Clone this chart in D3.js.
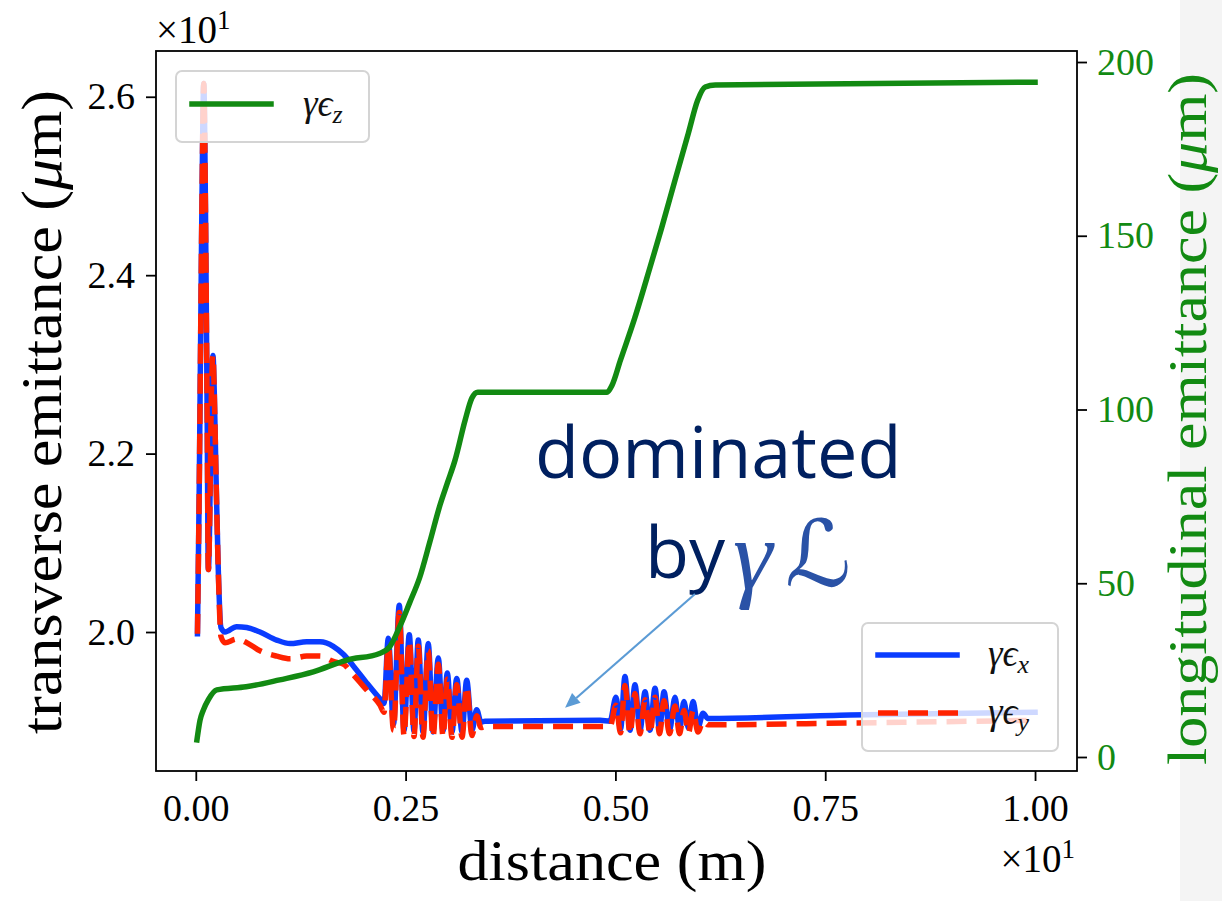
<!DOCTYPE html>
<html>
<head>
<meta charset="utf-8">
<script src="https://cdn.jsdelivr.net/npm/d3@7"></script>
<style>
  body { margin: 0; background: #fff; }
  svg { display: block; }
</style>
</head>
<body>
<svg id="chart" width="1222" height="901"></svg>
<script>
// Emittance evolution along the beamline (distance in m, emittance in µm)
const distXY = [
  0.020, 0.040, 0.070, 0.095, 0.115, 0.135, 0.150, 0.165, 0.185, 0.205,
  0.220, 0.240, 0.265, 0.300, 0.348, 0.487, 0.607, 0.765, 0.964, 1.123,
  1.321, 1.480, 1.638, 1.758, 1.877, 2.036, 2.195, 2.243, 2.294, 2.356,
  2.425, 2.481, 2.544, 2.600, 2.651, 2.707, 2.770, 2.826, 2.890, 2.946,
  2.997, 3.053, 3.109, 3.172, 3.228, 3.291, 3.347, 3.398, 3.446, 4.817,
  4.936, 5.007, 5.061, 5.114, 5.174, 5.233, 5.293, 5.353, 5.412, 5.472,
  5.526, 5.579, 5.645, 5.710, 5.764, 5.817, 5.871, 5.925, 5.984, 6.044,
  6.103, 7.795, 10.0
];
const gammaEpsX = [
  19.98, 21.5, 24.5, 26.15, 24.8, 22.5, 20.7, 21.2, 22.6, 23.1,
  22.7, 21.8, 20.8, 20.05, 20.0, 20.06, 20.05, 20.0, 19.91, 19.87,
  19.89, 19.89, 19.84, 19.75, 19.62, 19.43, 19.25, 19.20, 19.93, 18.97,
  20.30, 18.90, 19.97, 18.89, 19.91, 18.88, 19.87, 18.88, 19.71, 18.89,
  19.54, 18.88, 19.48, 18.88, 19.46, 18.90, 19.13, 18.99, 19.00, 19.01,
  19.00, 19.27, 18.91, 19.50, 18.90, 19.41, 18.90, 19.33, 18.90, 19.37,
  18.90, 19.33, 18.90, 19.27, 18.91, 19.22, 18.92, 19.22, 18.93, 19.09,
  19.03, 19.07, 19.10
];
const gammaEpsY = [
  19.98, 21.5, 24.5, 26.15, 24.8, 22.5, 20.7, 21.2, 22.6, 23.1,
  22.7, 21.8, 20.8, 19.95, 19.88, 19.92, 19.88, 19.79, 19.73, 19.70,
  19.73, 19.73, 19.67, 19.64, 19.52, 19.35, 19.18, 19.10, 19.85, 18.90,
  20.22, 18.84, 19.90, 18.83, 19.84, 18.82, 19.79, 18.82, 19.64, 18.83,
  19.47, 18.82, 19.41, 18.82, 19.39, 18.84, 19.06, 18.93, 18.94, 18.94,
  18.94, 19.18, 18.87, 19.40, 18.86, 19.31, 18.86, 19.24, 18.86, 19.27,
  18.86, 19.23, 18.86, 19.17, 18.86, 19.12, 18.87, 19.12, 18.88, 19.00,
  18.96, 18.98, 19.01
];
const distZ = [
  0.014, 0.05, 0.09, 0.15, 0.25, 0.60, 1.00, 1.40, 1.80, 2.19,
  2.31, 2.43, 2.55, 2.67, 2.79, 2.91, 3.00, 3.09, 3.21, 3.29,
  3.36, 4.90, 4.96, 5.06, 5.23, 5.41, 5.55, 5.71, 5.87, 5.98,
  6.07, 6.19, 10.0
];
const gammaEpsZ = [
  4.9, 10.5, 13.5, 16.5, 19.3, 20.2, 22.2, 24.5, 27.9, 29.8,
  31.7, 37.5, 44.5, 51.8, 62.0, 72.5, 79.0, 85.5, 97.0, 103.3,
  105.0, 105.0, 107.0, 114.2, 126.3, 140.7, 152.2, 166.0, 179.6, 189.0,
  192.8, 193.4, 194.2
];

// Axis ticks (labels carry a ×10¹ offset)
const distTicks = [0, 2.5, 5, 7.5, 10];
const distTickLabels = ["0.00", "0.25", "0.50", "0.75", "1.00"];
const transTicks = [20, 22, 24, 26];
const transTickLabels = ["2.0", "2.2", "2.4", "2.6"];
const longTicks = [0, 50, 100, 150, 200];
const longTickLabels = ["0", "50", "100", "150", "200"];

// Point the annotation arrow at (distance, transverse emittance)
const arrowTarget = [4.40, 19.15];

const COL_X = "#0a3cff", COL_Y = "#ff2200", COL_Z = "#128a12";
const SERIF = "'Liberation Serif', 'DejaVu Serif', serif";
const LW = 5.5;

const svg = d3.select("#chart");
const box = { left: 156, right: 1077, top: 51, bottom: 771 };

const x = d3.scaleLinear().domain([-0.474, 10.5]).range([box.left, box.right]);
const yL = d3.scaleLinear().domain([18.442, 26.513]).range([box.bottom, box.top]);
const yR = d3.scaleLinear().domain([-4.03, 203.17]).range([box.bottom, box.top]);

// pale strip along the right edge
svg.append("rect").attr("x", 1180).attr("y", 0).attr("width", 42).attr("height", 901)
  .attr("fill", "#f4f4f4");

svg.append("clipPath").attr("id", "plotClip").append("rect")
  .attr("x", box.left).attr("y", box.top)
  .attr("width", box.right - box.left).attr("height", box.bottom - box.top);

const lineL = d3.line().x(d => x(d[0])).y(d => yL(d[1])).curve(d3.curveMonotoneX);
const lineR = d3.line().x(d => x(d[0])).y(d => yR(d[1])).curve(d3.curveMonotoneX);

const plotL = svg.append("g").attr("clip-path", "url(#plotClip)");
plotL.append("path").datum(d3.zip(distXY, gammaEpsX)).attr("d", lineL)
  .attr("fill", "none").attr("stroke", COL_X).attr("stroke-width", LW)
  .attr("stroke-linejoin", "round").attr("stroke-linecap", "square");
plotL.append("path").datum(d3.zip(distXY, gammaEpsY)).attr("d", lineL)
  .attr("fill", "none").attr("stroke", COL_Y).attr("stroke-width", LW)
  .attr("stroke-dasharray", "20,10")
  .attr("stroke-linejoin", "round").attr("stroke-linecap", "butt");

// legend helpers
function legendBox(g, bx, by, bw, bh) {
  g.append("rect").attr("x", bx).attr("y", by).attr("width", bw).attr("height", bh)
    .attr("rx", 6).attr("fill", "#fff").attr("fill-opacity", 0.8)
    .attr("stroke", "#d4d4d4").attr("stroke-width", 2);
}
function legendLabel(g, lx, ly, sub) {
  const t = g.append("text").attr("x", lx).attr("y", ly)
    .attr("font-family", SERIF).attr("font-size", 37).attr("font-style", "italic")
    .attr("fill", "#111");
  t.append("tspan").text("γϵ");
  t.append("tspan").attr("font-size", 26).attr("dy", 7).text(sub);
}

// transverse legend
const leg2 = svg.append("g");
legendBox(leg2, 862, 623, 196, 128);
leg2.append("line").attr("x1", 878).attr("x2", 957).attr("y1", 655).attr("y2", 655)
  .attr("stroke", COL_X).attr("stroke-width", LW).attr("stroke-linecap", "square");
leg2.append("line").attr("x1", 878).attr("x2", 958).attr("y1", 713).attr("y2", 713)
  .attr("stroke", COL_Y).attr("stroke-width", LW).attr("stroke-dasharray", "20,10");
legendLabel(leg2, 988, 666, "x");
legendLabel(leg2, 988, 724, "y");

// longitudinal emittance on the twin axis
const plotR = svg.append("g").attr("clip-path", "url(#plotClip)");
plotR.append("path").datum(d3.zip(distZ, gammaEpsZ)).attr("d", lineR)
  .attr("fill", "none").attr("stroke", COL_Z).attr("stroke-width", LW)
  .attr("stroke-linejoin", "round").attr("stroke-linecap", "square");

const leg1 = svg.append("g");
legendBox(leg1, 176, 71, 193, 71);
leg1.append("line").attr("x1", 192).attr("x2", 271).attr("y1", 104).attr("y2", 104)
  .attr("stroke", COL_Z).attr("stroke-width", LW).attr("stroke-linecap", "square");
legendLabel(leg1, 303, 116, "z");

// frame
svg.append("rect").attr("x", box.left).attr("y", box.top)
  .attr("width", box.right - box.left).attr("height", box.bottom - box.top)
  .attr("fill", "none").attr("stroke", "#000").attr("stroke-width", 1.8);

function styleAxis(g, color) {
  g.select(".domain").remove();
  g.selectAll(".tick line").attr("stroke", "#000").attr("stroke-width", 1.8);
  g.selectAll(".tick text").attr("font-family", SERIF).attr("font-size", 38)
    .attr("fill", color);
}

svg.append("g").attr("transform", `translate(0,${box.bottom})`)
  .call(d3.axisBottom(x).tickValues(distTicks).tickSize(10).tickPadding(13)
    .tickFormat((d, i) => distTickLabels[i]))
  .call(g => styleAxis(g, "#000"));

svg.append("g").attr("transform", `translate(${box.left},0)`)
  .call(d3.axisLeft(yL).tickValues(transTicks).tickSize(10).tickPadding(11)
    .tickFormat((d, i) => transTickLabels[i]))
  .call(g => styleAxis(g, "#000"));

svg.append("g").attr("transform", `translate(${box.right},0)`)
  .call(d3.axisRight(yR).tickValues(longTicks).tickSize(10).tickPadding(10)
    .tickFormat((d, i) => longTickLabels[i]))
  .call(g => styleAxis(g, COL_Z));

// offset markers ×10¹
function offsetText(tx, ty, anchor) {
  const t = svg.append("text").attr("x", tx).attr("y", ty).attr("text-anchor", anchor)
    .attr("font-family", SERIF).attr("font-size", 39).attr("fill", "#000");
  t.append("tspan").text("×10");
  t.append("tspan").attr("font-size", 27).attr("dy", -14).text("1");
}
offsetText(156, 43, "start");
offsetText(1075, 872, "end");

// axis titles
function axisTitle(tx, ty, rot, len, size, color, pre, post) {
  const t = svg.append("text")
    .attr("transform", `translate(${tx},${ty}) rotate(${rot})`)
    .attr("text-anchor", "middle").attr("font-family", SERIF).attr("font-size", size)
    .attr("fill", color).attr("textLength", len).attr("lengthAdjust", "spacingAndGlyphs");
  t.append("tspan").text(pre);
  if (post !== undefined) {
    t.append("tspan").attr("font-style", "italic").text("μ");
    t.append("tspan").text(post);
  }
}
axisTitle(612, 880, 0, 309, 57, "#000", "distance (m)");
axisTitle(61, 412, -90, 644, 57, "#000", "transverse emittance (", "m)");
axisTitle(1206, 419, -90, 692, 55, COL_Z, "longitudinal emittance (", "m)");

// annotation
const SANS = "'Open Sans', 'Noto Sans', sans-serif";
svg.append("text").attr("x", 535).attr("y", 478).attr("font-family", SANS)
  .attr("font-size", 72).attr("fill", "#002060").text("dominated");
svg.append("text").attr("x", 645).attr("y", 578).attr("font-family", SANS)
  .attr("font-size", 72).attr("fill", "#002060").text("by");
svg.append("text").attr("x", 733).attr("y", 589).attr("font-family", SERIF)
  .attr("font-style", "italic").attr("font-size", 100).attr("fill", "#2a52a6").text("γ");
svg.append("text").attr("x", 785).attr("y", 586).attr("font-family", "'DejaVu Sans', 'DejaVu Serif', serif")
  .attr("font-size", 92).attr("fill", "#2a52a6").text("ℒ");

// arrow
const ax0 = 695, ay0 = 594;
const ax1 = x(arrowTarget[0]), ay1 = yL(arrowTarget[1]);
const ang = Math.atan2(ay1 - ay0, ax1 - ax0);
const headL = 15, headW = 6.5;
const bx = ax1 - headL * Math.cos(ang), by = ay1 - headL * Math.sin(ang);
svg.append("line").attr("x1", ax0).attr("y1", ay0).attr("x2", bx).attr("y2", by)
  .attr("stroke", "#5b9bd5").attr("stroke-width", 2.2);
svg.append("path")
  .attr("d", `M${ax1},${ay1} L${bx - headW * Math.sin(ang)},${by + headW * Math.cos(ang)} L${bx + headW * Math.sin(ang)},${by - headW * Math.cos(ang)} Z`)
  .attr("fill", "#5b9bd5");
</script>
</body>
</html>
